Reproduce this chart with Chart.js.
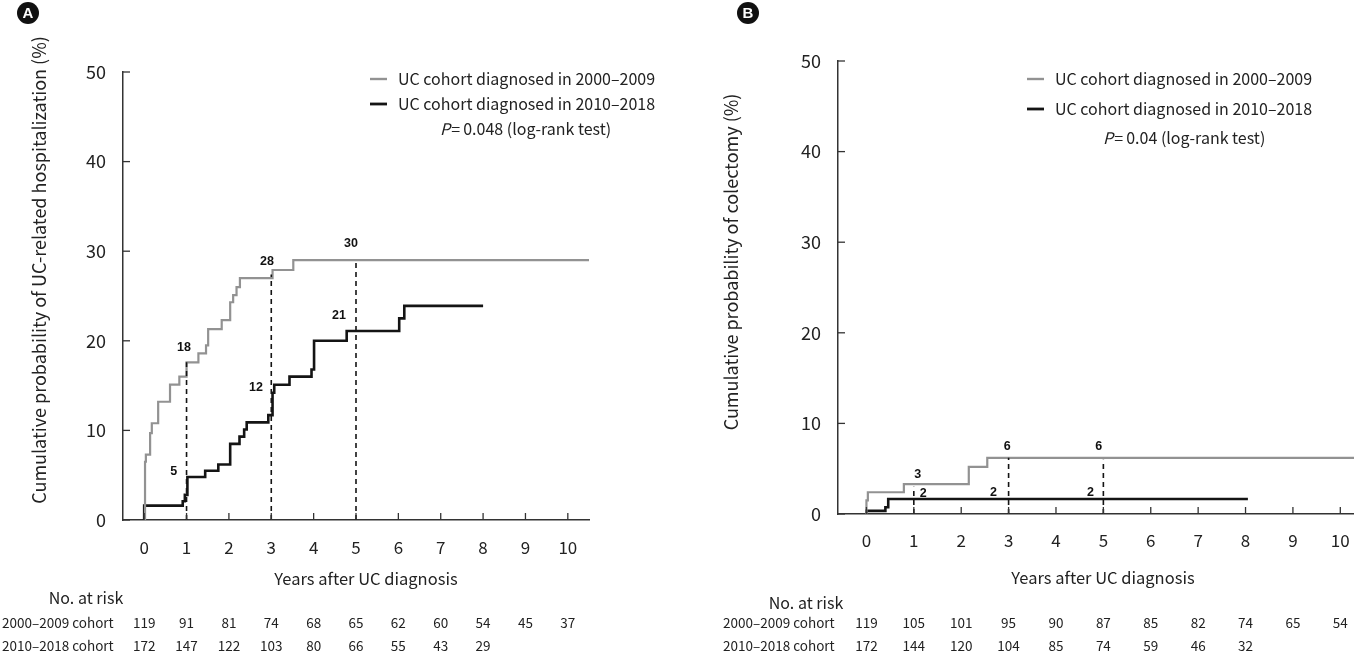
<!DOCTYPE html>
<html>
<head>
<meta charset="utf-8">
<script src="https://cdn.jsdelivr.net/npm/chart.js@4.4.1/dist/chart.umd.min.js"></script>
<style>
  html, body { margin: 0; padding: 0; background: #fff; overflow: hidden; width: 1354px; height: 655px; }
  canvas { position: absolute; top: 0; }
  #chartA { left: 0; }
  #chartB { left: 677px; }
</style>
</head>
<body>
<canvas id="chartA" width="677" height="655"></canvas>
<canvas id="chartB" width="700" height="655"></canvas>
<script>
// Shared axes
var yearTicks = [0, 1, 2, 3, 4, 5, 6, 7, 8, 9, 10];
var pctTicks = [0, 10, 20, 30, 40, 50];
var seriesNames = ["UC cohort diagnosed in 2000\u20132009", "UC cohort diagnosed in 2010\u20132018"];
var riskRowNames = ["2000\u20132009 cohort", "2010\u20132018 cohort"];

// Panel A: UC-related hospitalization (years, cumulative %)
var hospOldTime = [0, 0.02, 0.04, 0.14, 0.18, 0.33, 0.61, 0.83, 1.0, 1.28, 1.46, 1.51, 1.83, 2.03, 2.1, 2.18, 2.26, 3.03, 3.52, 10.5];
var hospOldPct  = [0, 6.5, 7.3, 9.7, 10.8, 13.2, 15.1, 16.0, 17.6, 18.6, 19.5, 21.3, 22.3, 24.3, 25.1, 26.0, 27.0, 27.9, 29.0, 29.0];
var hospNewTime = [0, 0, 0.91, 0.96, 1.02, 1.44, 1.75, 2.03, 2.25, 2.36, 2.42, 2.93, 3.03, 3.07, 3.43, 3.95, 4.01, 4.78, 6.02, 6.14, 8.0];
var hospNewPct  = [0, 1.6, 2.1, 2.8, 4.8, 5.5, 6.2, 8.5, 9.3, 10.1, 10.9, 11.7, 14.2, 15.1, 16.0, 16.8, 20.0, 21.1, 22.5, 23.9, 23.9];
var hospMarkYears = [1, 3, 5];
var hospMarkTop = [17.6, 27.4, 29.0];
var hospNoteText = ["18", "5", "28", "12", "30", "21"];
var hospNoteYear = [0.94, 0.70, 2.9, 2.64, 4.88, 4.6];
var hospNotePct  = [19.3, 5.4, 28.9, 14.8, 30.9, 22.8];
var hospRiskOld = [119, 91, 81, 74, 68, 65, 62, 60, 54, 45, 37];
var hospRiskNew = [172, 147, 122, 103, 80, 66, 55, 43, 29];
var hospPValue = "0.048";

// Panel B: colectomy (years, cumulative %)
var colOldTime = [0, 0, 0.03, 0.79, 2.16, 2.55, 10.5];
var colOldPct  = [0, 1.5, 2.4, 3.3, 5.2, 6.2, 6.2];
var colNewTime = [0, 0, 0.4, 0.46, 8.05];
var colNewPct  = [0, 0.35, 0.75, 1.65, 1.65];
var colMarkYears = [1, 3, 5];
var colMarkTop = [3.0, 6.2, 6.0];
var colNoteText = ["3", "6", "6", "2", "2", "2"];
var colNoteYear = [1.08, 2.97, 4.9, 1.2, 2.68, 4.73];
var colNotePct  = [4.4, 7.4, 7.4, 2.3, 2.4, 2.4];
var colRiskOld = [119, 105, 101, 95, 90, 87, 85, 82, 74, 65, 54];
var colRiskNew = [172, 144, 120, 104, 85, 74, 59, 46, 32];
var colPValue = "0.04";

var GRAY = "#929292";
var BLACK = "#141414";
var FONT = '"Noto Sans CJK KR", "Noto Sans", sans-serif';

function toPoints(xs, ys) {
  var pts = [];
  for (var i = 0; i < xs.length; i++) pts.push({ x: xs[i], y: ys[i] });
  return pts;
}

function buildDatasets(oldT, oldP, newT, newP, markYears, markTop) {
  var sets = [];
  for (var i = 0; i < markYears.length; i++) {
    sets.push({
      data: [{ x: markYears[i], y: 0 }, { x: markYears[i], y: markTop[i] }],
      borderColor: BLACK, borderWidth: 1.6, borderDash: [5, 4], pointRadius: 0
    });
  }
  sets.push({ data: toPoints(oldT, oldP), stepped: "before", borderColor: GRAY, borderWidth: 2.2, pointRadius: 0 });
  sets.push({ data: toPoints(newT, newP), stepped: "before", borderColor: BLACK, borderWidth: 2.6, pointRadius: 0 });
  return sets;
}

function text(ctx, s, x, y, font, align, color) {
  ctx.font = font;
  ctx.textAlign = align || "left";
  ctx.textBaseline = "middle";
  ctx.fillStyle = color || "#222";
  ctx.fillText(s, x, y);
}

// Draws ticks, labels, legend, notes, risk table and panel badge
var kmExtras = {
  id: "kmExtras",
  afterDraw: function (chart, args, o) {
    var ctx = chart.ctx;
    var xs = chart.scales.x, ys = chart.scales.y;
    var area = chart.chartArea;
    ctx.save();

    // inward tick marks
    ctx.strokeStyle = "#333";
    ctx.lineWidth = 1.3;
    yearTicks.forEach(function (t) {
      var px = xs.getPixelForValue(t);
      ctx.beginPath(); ctx.moveTo(px, area.bottom); ctx.lineTo(px, area.bottom - 7); ctx.stroke();
      text(ctx, String(t), px, area.bottom + o.xLabelDy, "17px " + FONT, "center", "#222");
    });
    pctTicks.forEach(function (t) {
      var py = ys.getPixelForValue(t);
      ctx.beginPath(); ctx.moveTo(area.left, py); ctx.lineTo(area.left + 7, py); ctx.stroke();
      text(ctx, String(t), area.left - 17, py, "18px " + FONT, "right", "#222");
    });

    // axis titles
    text(ctx, "Years after UC diagnosis", o.xTitleX, o.xTitleY, "16.5px " + FONT, "center", "#222");
    ctx.save();
    ctx.translate(o.yTitleX, o.yTitleY);
    ctx.rotate(-Math.PI / 2);
    text(ctx, o.yTitle, 0, 0, "18px " + FONT, "center", "#222");
    ctx.restore();

    // notes at the dashed marks
    for (var i = 0; i < o.notes.text.length; i++) {
      text(ctx, o.notes.text[i], xs.getPixelForValue(o.notes.year[i]), ys.getPixelForValue(o.notes.pct[i]),
        "bold 12.5px \"Liberation Sans\", Arial, sans-serif", "center", "#111");
    }

    // legend
    var lx = o.legendX, ly = o.legendY;
    [GRAY, BLACK].forEach(function (c, k) {
      ctx.strokeStyle = c;
      ctx.lineWidth = k === 0 ? 2.4 : 2.8;
      ctx.beginPath(); ctx.moveTo(lx, ly[k]); ctx.lineTo(lx + 17, ly[k]); ctx.stroke();
      text(ctx, seriesNames[k], lx + 28, ly[k], "16px " + FONT, "left", "#222");
    });
    ctx.font = "italic 16px " + FONT;
    var pw = ctx.measureText("P").width;
    text(ctx, "P", o.pX, ly[2], "italic 16px " + FONT, "left", "#222");
    text(ctx, "=\u2009" + o.p + " (log-rank test)", o.pX + pw + 1, ly[2], "16px " + FONT, "left", "#222");

    // number at risk
    text(ctx, "No. at risk", o.riskTitleX, o.riskTitleY, "16px " + FONT, "center", "#222");
    [o.riskOld, o.riskNew].forEach(function (row, k) {
      var ry = o.riskRowY[k];
      text(ctx, riskRowNames[k], o.riskNameX, ry, "13.5px " + FONT, "left", "#222");
      row.forEach(function (n, j) {
        text(ctx, String(n), xs.getPixelForValue(yearTicks[j]), ry, "13.5px " + FONT, "center", "#222");
      });
    });

    // panel badge
    ctx.fillStyle = "#111";
    ctx.beginPath(); ctx.arc(o.badgeX, o.badgeY, 11, 0, Math.PI * 2); ctx.fill();
    text(ctx, o.badge, o.badgeX, o.badgeY + 1, "bold 15px \"Liberation Sans\", Arial, sans-serif", "center", "#fff");

    ctx.restore();
  }
};

function makeChart(id, datasets, xMin, padding, extras) {
  return new Chart(document.getElementById(id).getContext("2d"), {
    type: "line",
    data: { datasets: datasets },
    plugins: [kmExtras],
    options: {
      responsive: false,
      animation: false,
      layout: { padding: padding },
      plugins: { legend: { display: false }, tooltip: { enabled: false }, kmExtras: extras },
      scales: {
        x: {
          type: "linear", min: xMin, max: 10.5,
          ticks: { display: false },
          grid: { display: false, drawTicks: false },
          border: { display: true, color: "#333", width: 1.5 }
        },
        y: {
          min: 0, max: 50,
          ticks: { display: false },
          grid: { display: false, drawTicks: false },
          border: { display: true, color: "#333", width: 1.5 }
        }
      }
    }
  });
}

makeChart("chartA",
  buildDatasets(hospOldTime, hospOldPct, hospNewTime, hospNewPct, hospMarkYears, hospMarkTop),
  -0.5,
  { left: 123, right: 88, top: 72, bottom: 135 },
  {
    xLabelDy: 28, xTitleX: 366, xTitleY: 579,
    yTitle: "Cumulative probability of UC-related hospitalization (%)", yTitleX: 39, yTitleY: 270,
    notes: { text: hospNoteText, year: hospNoteYear, pct: hospNotePct },
    legendX: 370, legendY: [79, 104, 129], pX: 440, p: hospPValue,
    riskTitleX: 86, riskTitleY: 598, riskNameX: 2, riskRowY: [623, 646],
    riskOld: hospRiskOld, riskNew: hospRiskNew,
    badge: "A", badgeX: 28, badgeY: 13
  });

makeChart("chartB",
  buildDatasets(colOldTime, colOldPct, colNewTime, colNewPct, colMarkYears, colMarkTop),
  -0.6,
  { left: 161, right: 13, top: 61, bottom: 141 },
  {
    xLabelDy: 27, xTitleX: 426, xTitleY: 578,
    yTitle: "Cumulative probability of colectomy (%)", yTitleX: 54, yTitleY: 262,
    notes: { text: colNoteText, year: colNoteYear, pct: colNotePct },
    legendX: 350, legendY: [79, 109, 138], pX: 426, p: colPValue,
    riskTitleX: 129, riskTitleY: 603, riskNameX: 46, riskRowY: [623, 646],
    riskOld: colRiskOld, riskNew: colRiskNew,
    badge: "B", badgeX: 71, badgeY: 13
  });
</script>
</body>
</html>
